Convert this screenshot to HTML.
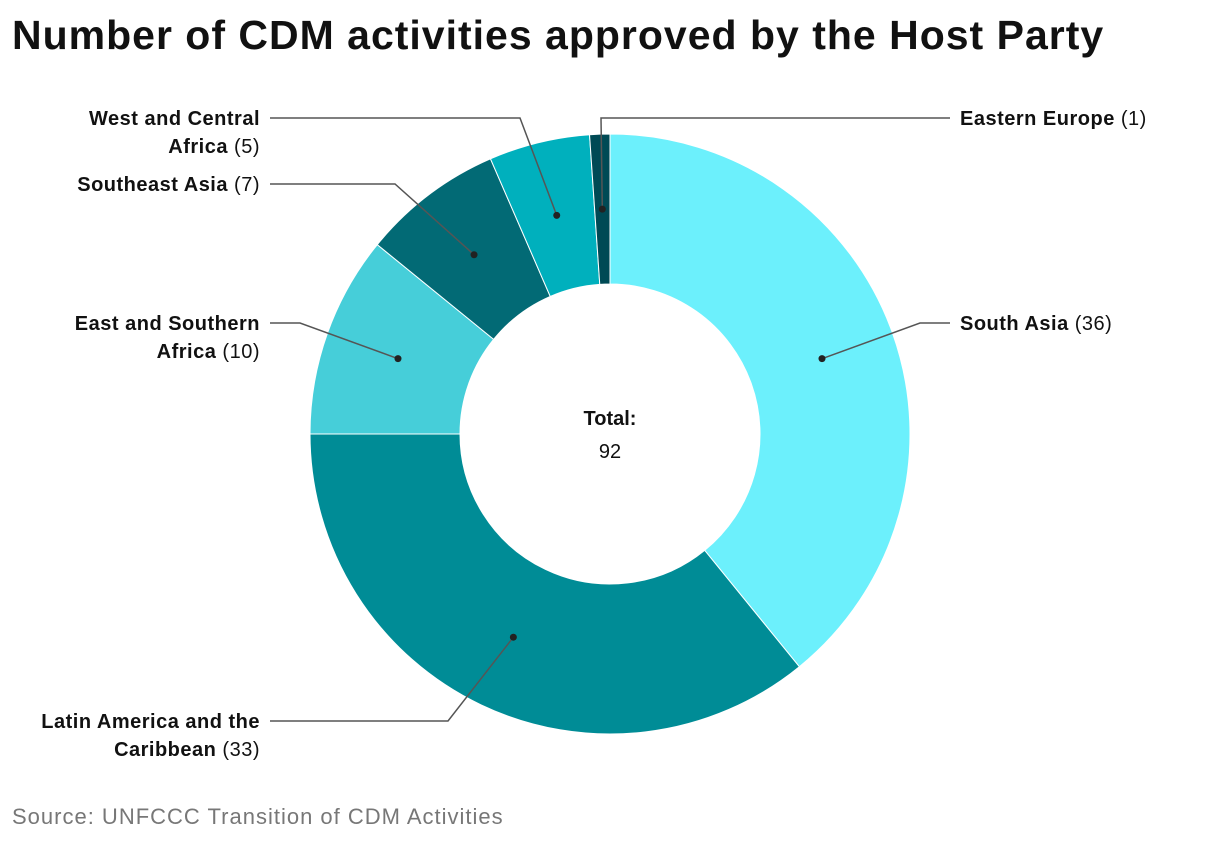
<!DOCTYPE html>
<html><head><meta charset="utf-8"><style>
body{margin:0;background:#fff;width:1220px;height:842px;overflow:hidden;font-family:"Liberation Sans",sans-serif}
h1{position:absolute;left:12px;top:12px;margin:0;font-size:41px;font-weight:bold;color:#111;letter-spacing:1.0px}
.src{position:absolute;left:12px;top:804px;font-size:22px;color:#777;letter-spacing:1.0px}
</style></head><body>
<h1>Number of CDM activities approved by the Host Party</h1>
<svg id="chart" width="1220" height="842" style="position:absolute;left:0;top:0"></svg>
<div class="src">Source: UNFCCC Transition of CDM Activities</div>
<script>
const categories=["South Asia","Latin America and the Caribbean","East and Southern Africa","Southeast Asia","West and Central Africa","Eastern Europe"];
const values=[36,33,10,7,5,1];
const colors=["#6cf0fc","#008c96","#46ced9","#026a75","#00b0bd","#004a55"];
const labelLines=[["South Asia (36)"],["Latin America and the","Caribbean (33)"],["East and Southern","Africa (10)"],["Southeast Asia (7)"],["West and Central","Africa (5)"],["Eastern Europe (1)"]];
const labelLayout=[{ex:920,ey:323,side:"r"},{ex:448,ey:721,side:"l"},{ex:300,ey:323,side:"l"},{ex:395,ey:184,side:"l"},{ex:520,ey:118,side:"l"},{ex:601,ey:118,side:"r"}];
const svg=document.getElementById('chart'),NS="http://www.w3.org/2000/svg";
const cx=610,cy=434,R=300,r=150,total=values.reduce((a,b)=>a+b,0);
function pt(a,rad){return [cx+rad*Math.sin(a),cy-rad*Math.cos(a)];}
function mk(t,at){const e=document.createElementNS(NS,t);for(const k in at)e.setAttribute(k,at[k]);svg.appendChild(e);return e;}
let acc=0;
values.forEach((v,i)=>{
 const a0=acc/total*2*Math.PI,a1=(acc+v)/total*2*Math.PI;acc+=v;
 const [x0,y0]=pt(a0,R),[x1,y1]=pt(a1,R),[x2,y2]=pt(a1,r),[x3,y3]=pt(a0,r);
 const lg=(a1-a0)>Math.PI?1:0;
 const p=mk('path',{d:`M${x0},${y0}A${R},${R} 0 ${lg} 1 ${x1},${y1}L${x2},${y2}A${r},${r} 0 ${lg} 0 ${x3},${y3}Z`,fill:colors[i],stroke:"#fff","stroke-width":1});
 
 
});
acc=0;
values.forEach((v,i)=>{
 const am=(acc+v/2)/total*2*Math.PI;acc+=v;
 const [dx,dy]=pt(am,225);const L=labelLayout[i];
 const endX=L.side==="r"?950:270;
 const pl=mk('polyline',{points:`${dx},${dy} ${L.ex},${L.ey} ${endX},${L.ey}`,fill:"none",stroke:"#555","stroke-width":1.5});
 
 
 const c=mk('circle',{cx:dx,cy:dy,r:3.5,fill:"#222"});
 
 
 const lines=labelLines[i];
 const tx=L.side==="r"?960:260,anchor=L.side==="r"?"start":"end";
 const y0=L.ey+7;
 lines.forEach((ln,j)=>{
  const t=mk('text',{x:tx,y:y0+j*28,"text-anchor":anchor,"font-size":20,fill:"#111","letter-spacing":"0.5"});
  
  
  const m=ln.match(/^(.*?)( ?\(\d+\))?$/);
  const b=document.createElementNS(NS,'tspan');b.setAttribute('font-weight','bold');b.textContent=m[1];t.appendChild(b);
  if(m[2]){const n=document.createElementNS(NS,'tspan');n.textContent=m[2];t.appendChild(n);}
 });
});
const t1=mk('text',{x:cx,y:425,"text-anchor":"middle","font-size":20,"font-weight":"bold",fill:"#111"});t1.textContent="Total:";


const t2=mk('text',{x:cx,y:458,"text-anchor":"middle","font-size":20,fill:"#111"});t2.textContent=String(total);


</script>
</body></html>
